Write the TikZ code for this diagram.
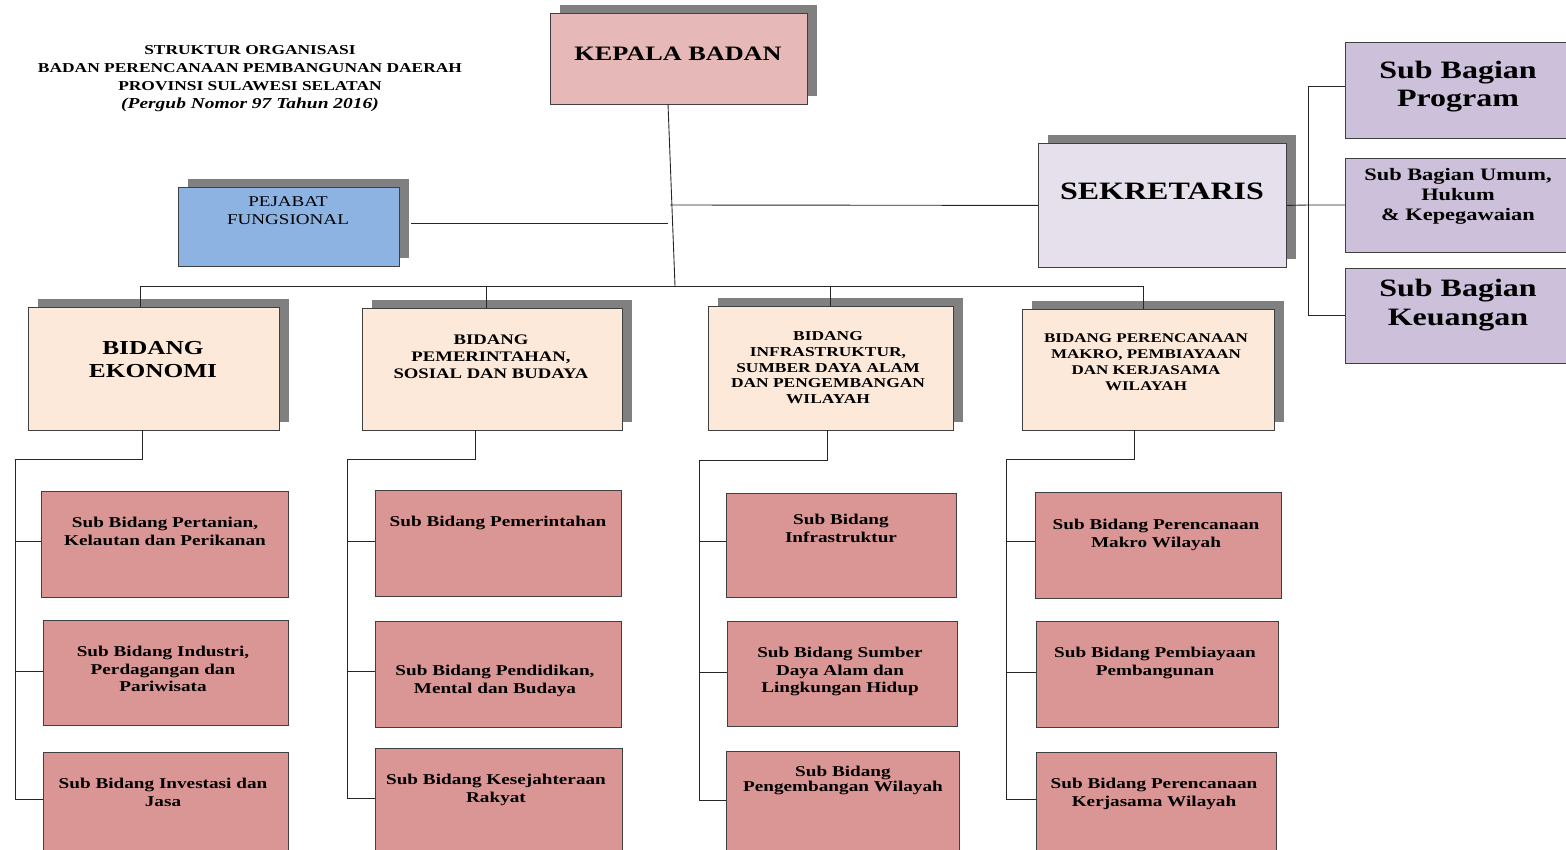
\documentclass[tikz,border=0pt]{standalone}
\usepackage{fontspec}
\setmainfont{Liberation Serif}[FakeStretch=1.28]
\usetikzlibrary{shadows}
\definecolor{kepalaC}{HTML}{E6B8B7}
\definecolor{pejabatC}{HTML}{8DB3E2}
\definecolor{sekC}{HTML}{E5E0EC}
\definecolor{sbagC}{HTML}{CCC0DA}
\definecolor{bidC}{HTML}{FDE9D9}
\definecolor{subC}{HTML}{DA9694}
\definecolor{shadC}{HTML}{808080}
\newcommand{\fs}[2]{\fontsize{#1}{#2}\selectfont}
\begin{document}
\begin{tikzpicture}[x=1pt,y=-1pt,
  box/.style={draw=black!75, line width=0.8pt, inner sep=0pt, anchor=north west},
  shad/.style={general shadow={fill=shadC, shadow xshift=10pt, shadow yshift=8pt}},
  ln/.style={draw=black!85, line width=0.9pt},
  txt/.style={inner sep=0pt, align=center, anchor=north, font=\bfseries},
  subbox/.style={box, fill=subC},
  subtxt/.style={txt, font=\bfseries\fs{15}{17.5}},
  bidbox/.style={box, fill=bidC, shad},
  sbag/.style={box, fill=sbagC, minimum width=225pt},
]
\useasboundingbox (0,0) rectangle (1566,849);

% title
\node[txt, font=\bfseries\fs{13.6}{18}] (title) at (250,45.5) {STRUKTUR ORGANISASI\\BADAN PERENCANAAN PEMBANGUNAN DAERAH\\PROVINSI SULAWESI SELATAN\\{\fs{15.2}{18}\textit{(Pergub Nomor 97 Tahun 2016)}}};

% connectors (drawn first, boxes on top)
\coordinate (kTop) at (668,104);
\coordinate (busM) at (675,286);
\coordinate (busL) at (140,286);
\coordinate (busR) at (1143,286);
\coordinate (pjR) at (411,223);
\coordinate (pjM) at (668,223);
\coordinate (skM) at (670,205);
\coordinate (skSpine) at (1308,205);
\coordinate (sbT) at (1308,86);
\coordinate (sbB) at (1308,315);

% top level boxes
\node[box, fill=kepalaC, shad, minimum width=257pt, minimum height=91pt] (kepala) at (550,13) {};
\node[txt, anchor=center, font=\bfseries\fs{20.5}{24}] (tkepala) at (678,53.5) {KEPALA BADAN};

\node[box, fill=pejabatC, shad, minimum width=221pt, minimum height=79pt] (pejabat) at (178,187) {};
\node[txt, font=\fs{14.9}{18}] (tpejabat) at (288,196) {PEJABAT\\FUNGSIONAL};

\node[box, fill=sekC, shad, minimum width=248pt, minimum height=124pt] (sek) at (1038,143) {};
\node[txt, anchor=center, font=\bfseries\fs{25}{28}] (tsek) at (1162,191.5) {SEKRETARIS};

\node[sbag, minimum height=96pt] (sbp) at (1345,42) {};
\node[txt, font=\bfseries\fs{25}{28}] (tsbp) at (1458,61) {Sub Bagian\\Program};
\node[sbag, minimum height=94pt] (sbu) at (1345,158) {};
\node[txt, font=\bfseries\fs{17.5}{20}] (tsbu) at (1458,168) {Sub Bagian Umum,\\Hukum\\\& Kepegawaian};
\node[sbag, minimum height=95pt] (sbk) at (1345,268) {};
\node[txt, font=\bfseries\fs{25}{29}] (tsbk) at (1458,279) {Sub Bagian\\Keuangan};

\draw[ln] (kTop) -- (busM);
\draw[ln] (busL) -- (busR);
\draw[ln] (pjR) -- (pjM);
\draw[ln] (skM) -- (sek.west);
\draw[ln] (sek.east) -- (skSpine) -- (skSpine -| sbu.west);
\draw[ln] (sbT) -- (sbB);
\draw[ln] (sbT) -- (sbT -| sbp.west);
\draw[ln] (sbB) -- (sbB -| sbk.west);

% bidang boxes
\node[bidbox, minimum width=251pt, minimum height=123pt] (b1) at (28,307) {};
\node[txt, font=\bfseries\fs{19.8}{23}] (tb1) at (153,341) {BIDANG\\EKONOMI};
\node[bidbox, minimum width=260pt, minimum height=122pt] (b2) at (362,308) {};
\node[txt, font=\bfseries\fs{14.6}{17}] (tb2) at (491,335) {BIDANG\\PEMERINTAHAN,\\SOSIAL DAN BUDAYA};
\node[bidbox, minimum width=245pt, minimum height=124pt] (b3) at (708,306) {};
\node[txt, font=\bfseries\fs{13.6}{15.7}] (tb3) at (828,331.5) {BIDANG\\INFRASTRUKTUR,\\SUMBER DAYA ALAM\\DAN PENGEMBANGAN\\WILAYAH};
\node[bidbox, minimum width=252pt, minimum height=121pt] (b4) at (1022,309) {};
\node[txt, font=\bfseries\fs{13.3}{16}] (tb4) at (1146,333.5) {BIDANG PERENCANAAN\\MAKRO, PEMBIAYAAN\\DAN KERJASAMA\\WILAYAH};

\draw[ln] (busL) -- (busL |- b1.north);
\coordinate (bus2) at (486,286);
\coordinate (bus3) at (830,286);
\draw[ln] (bus2) -- (bus2 |- b2.north);
\draw[ln] (bus3) -- (bus3 |- b3.north);
\draw[ln] (busR) -- (busR |- b4.north);

% sub bidang boxes
\node[subbox, minimum width=247pt, minimum height=106pt] (s11) at (41,491) {};
\node[subbox, minimum width=245pt, minimum height=105pt] (s12) at (43,620) {};
\node[subbox, minimum width=245pt, minimum height=115pt] (s13) at (43,752) {};
\node[subbox, minimum width=246pt, minimum height=106pt] (s21) at (375,490) {};
\node[subbox, minimum width=246pt, minimum height=106pt] (s22) at (375,621) {};
\node[subbox, minimum width=247pt, minimum height=115pt] (s23) at (375,748) {};
\node[subbox, minimum width=230pt, minimum height=104pt] (s31) at (726,493) {};
\node[subbox, minimum width=230pt, minimum height=105pt] (s32) at (727,621) {};
\node[subbox, minimum width=233pt, minimum height=115pt] (s33) at (726,751) {};
\node[subbox, minimum width=246pt, minimum height=106pt] (s41) at (1035,492) {};
\node[subbox, minimum width=242pt, minimum height=106pt] (s42) at (1036,621) {};
\node[subbox, minimum width=240pt, minimum height=115pt] (s43) at (1036,752) {};

\node[subtxt] (t11) at (165,517) {Sub Bidang Pertanian,\\Kelautan dan Perikanan};
\node[subtxt] (t12) at (163,646) {Sub Bidang Industri,\\Perdagangan dan\\Pariwisata};
\node[subtxt] (t13) at (163,778) {Sub Bidang Investasi dan\\Jasa};
\node[subtxt] (t21) at (498,516) {Sub Bidang Pemerintahan};
\node[subtxt] (t22) at (495,665) {Sub Bidang Pendidikan,\\Mental dan Budaya};
\node[subtxt] (t23) at (496,774) {Sub Bidang Kesejahteraan\\Rakyat};
\node[subtxt] (t31) at (841,514) {Sub Bidang\\Infrastruktur};
\node[subtxt] (t32) at (840,647) {Sub Bidang Sumber\\Daya Alam dan\\Lingkungan Hidup};
\node[subtxt, font=\bfseries\fs{15}{11}] (t33) at (843,766) {Sub Bidang\\Pengembangan Wilayah};
\node[subtxt] (t41) at (1156,519) {Sub Bidang Perencanaan\\Makro Wilayah};
\node[subtxt] (t42) at (1155,647) {Sub Bidang Pembiayaan\\Pembangunan};
\node[subtxt] (t43) at (1154,778) {Sub Bidang Perencanaan\\Kerjasama Wilayah};

% column trees
\coordinate (d1) at (142,430); \coordinate (e1) at (142,459); \coordinate (sp1) at (15,459);
\coordinate (q11) at (15,541); \coordinate (q12) at (15,671); \coordinate (q13) at (15,799);
\draw[ln] (d1) -- (e1) -- (sp1) -- (q13);
\draw[ln] (q11) -- (q11 -| s11.west);
\draw[ln] (q12) -- (q12 -| s12.west);
\draw[ln] (q13) -- (q13 -| s13.west);

\coordinate (d2) at (475,430); \coordinate (e2) at (475,459); \coordinate (sp2) at (347,459);
\coordinate (q21) at (347,541); \coordinate (q22) at (347,671); \coordinate (q23) at (347,798);
\draw[ln] (d2) -- (e2) -- (sp2) -- (q23);
\draw[ln] (q21) -- (q21 -| s21.west);
\draw[ln] (q22) -- (q22 -| s22.west);
\draw[ln] (q23) -- (q23 -| s23.west);

\coordinate (d3) at (827,430); \coordinate (e3) at (827,460); \coordinate (sp3) at (699,460);
\coordinate (q31) at (699,541); \coordinate (q32) at (699,672); \coordinate (q33) at (699,800);
\draw[ln] (d3) -- (e3) -- (sp3) -- (q33);
\draw[ln] (q31) -- (q31 -| s31.west);
\draw[ln] (q32) -- (q32 -| s32.west);
\draw[ln] (q33) -- (q33 -| s33.west);

\coordinate (d4) at (1134,430); \coordinate (e4) at (1134,459); \coordinate (sp4) at (1006,459);
\coordinate (q41) at (1006,541); \coordinate (q42) at (1006,672); \coordinate (q43) at (1006,799);
\draw[ln] (d4) -- (e4) -- (sp4) -- (q43);
\draw[ln] (q41) -- (q41 -| s41.west);
\draw[ln] (q42) -- (q42 -| s42.west);
\draw[ln] (q43) -- (q43 -| s43.west);
\end{tikzpicture}
\end{document}
